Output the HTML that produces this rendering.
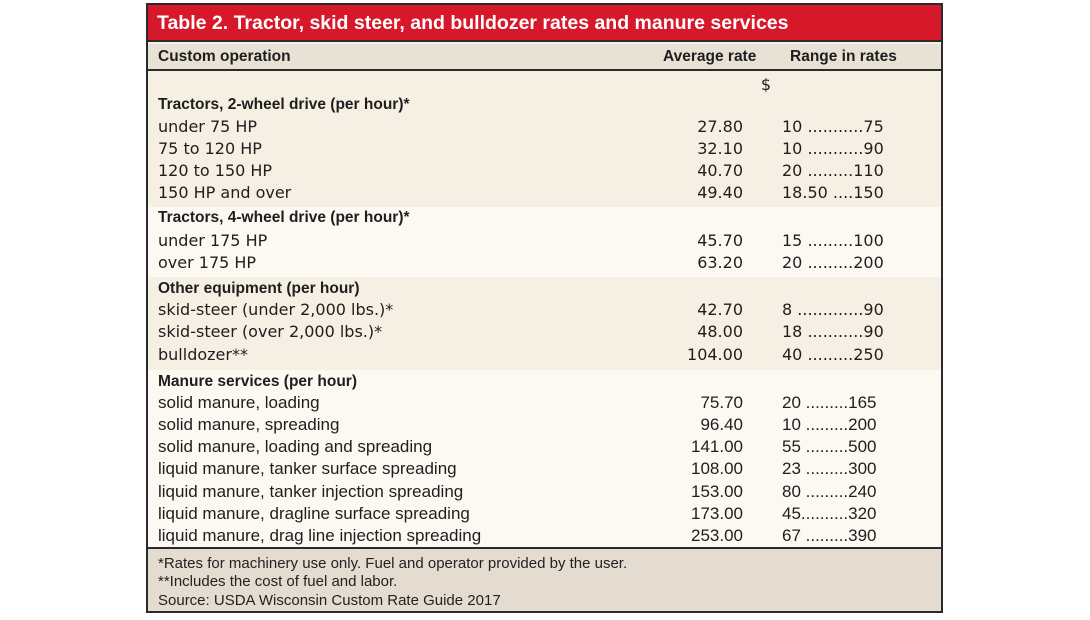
<!DOCTYPE html>
<html><head><meta charset="utf-8"><style>
body{margin:0;width:1090px;height:620px;background:#fff;position:relative;overflow:hidden;font-family:"Liberation Sans",sans-serif;color:#1e1e1e}
.box{position:absolute;left:146px;top:3px;width:793px;height:606px;border:2px solid #2a2a2a;background:#f6f0e4}
.abs{position:absolute}
.sec{position:absolute;left:0;width:793px}
.r{position:absolute;left:0;width:793px;height:22px;line-height:22px;font-size:17px}
.r .l{position:absolute;left:10px;white-space:nowrap}
.r .a{position:absolute;right:198px;text-align:right}
.r .g{position:absolute;left:634px;white-space:nowrap}
.h{font-weight:bold;font-size:15.5px}
.w{font-family:"DejaVu Sans",sans-serif;font-size:16px}
.f{position:absolute;left:10px;font-size:15px;line-height:19px;color:#222}
</style></head><body>
<div class="box">
 <div class="abs" style="left:0;top:0;width:793px;height:37px;background:#d7182a;border-bottom:2px solid #2a2a2a;color:#fff;font-weight:bold;font-size:19.5px;line-height:37px;padding-left:9px;box-sizing:border-box">Table 2. Tractor, skid steer, and bulldozer rates and manure services</div>
 <div class="abs" style="left:0;top:39px;width:793px;height:25px;background:#e8e1d5;border-bottom:2px solid #2a2a2a;font-weight:bold;font-size:15.5px;line-height:25px">
  <span class="abs" style="left:10px">Custom operation</span>
  <span class="abs" style="left:515px">Average rate</span>
  <span class="abs" style="left:642px">Range in rates</span>
 </div>
 <div class="sec" style="top:66px;height:136px;background:#f6f0e4"></div>
 <div class="sec" style="top:202px;height:70px;background:#fcf9f3"></div>
 <div class="sec" style="top:272px;height:93px;background:#f6f0e4"></div>
 <div class="sec" style="top:365px;height:177px;background:#fcf9f3;border-bottom:2px solid #2a2a2a"></div>
 <div class="sec" style="top:544px;height:62px;background:#e4dcd0">
  <div class="f" style="top:5px">*Rates for machinery use only. Fuel and operator provided by the user.</div>
  <div class="f" style="top:23px">**Includes the cost of fuel and labor.</div>
  <div class="f" style="top:42px">Source: USDA Wisconsin Custom Rate Guide 2017</div>
 </div>
 <div class="r w" style="top:69px"><span class="a" style="right:170px">$</span></div>

 <div class="r h" style="top:89px"><span class="l">Tractors, 2-wheel drive (per hour)*</span></div>
 <div class="r w" style="top:111px"><span class="l">under 75 HP</span><span class="a">27.80</span><span class="g">10 ...........75</span></div>
 <div class="r w" style="top:133px"><span class="l">75 to 120 HP</span><span class="a">32.10</span><span class="g">10 ...........90</span></div>
 <div class="r w" style="top:155px"><span class="l">120 to 150 HP</span><span class="a">40.70</span><span class="g">20 .........110</span></div>
 <div class="r w" style="top:177px"><span class="l">150 HP and over</span><span class="a">49.40</span><span class="g">18.50 ....150</span></div>

 <div class="r h" style="top:202px"><span class="l">Tractors, 4-wheel drive (per hour)*</span></div>
 <div class="r w" style="top:225px"><span class="l">under 175 HP</span><span class="a">45.70</span><span class="g">15 .........100</span></div>
 <div class="r w" style="top:247px"><span class="l">over 175 HP</span><span class="a">63.20</span><span class="g">20 .........200</span></div>

 <div class="r h" style="top:273px"><span class="l">Other equipment (per hour)</span></div>
 <div class="r w" style="top:294px"><span class="l">skid-steer (under 2,000 lbs.)*</span><span class="a">42.70</span><span class="g">8 .............90</span></div>
 <div class="r w" style="top:316px"><span class="l">skid-steer (over 2,000 lbs.)*</span><span class="a">48.00</span><span class="g">18 ...........90</span></div>
 <div class="r w" style="top:339px"><span class="l">bulldozer**</span><span class="a">104.00</span><span class="g">40 .........250</span></div>

 <div class="r h" style="top:366px"><span class="l">Manure services (per hour)</span></div>
 <div class="r" style="top:387px"><span class="l">solid manure, loading</span><span class="a">75.70</span><span class="g">20 .........165</span></div>
 <div class="r" style="top:409px"><span class="l">solid manure, spreading</span><span class="a">96.40</span><span class="g">10 .........200</span></div>
 <div class="r" style="top:431px"><span class="l">solid manure, loading and spreading</span><span class="a">141.00</span><span class="g">55 .........500</span></div>
 <div class="r" style="top:453px"><span class="l">liquid manure, tanker surface spreading</span><span class="a">108.00</span><span class="g">23 .........300</span></div>
 <div class="r" style="top:476px"><span class="l">liquid manure, tanker injection spreading</span><span class="a">153.00</span><span class="g">80 .........240</span></div>
 <div class="r" style="top:498px"><span class="l">liquid manure, dragline surface spreading</span><span class="a">173.00</span><span class="g">45..........320</span></div>
 <div class="r" style="top:520px"><span class="l">liquid manure, drag line injection spreading</span><span class="a">253.00</span><span class="g">67 .........390</span></div>
</div>
</body></html>
